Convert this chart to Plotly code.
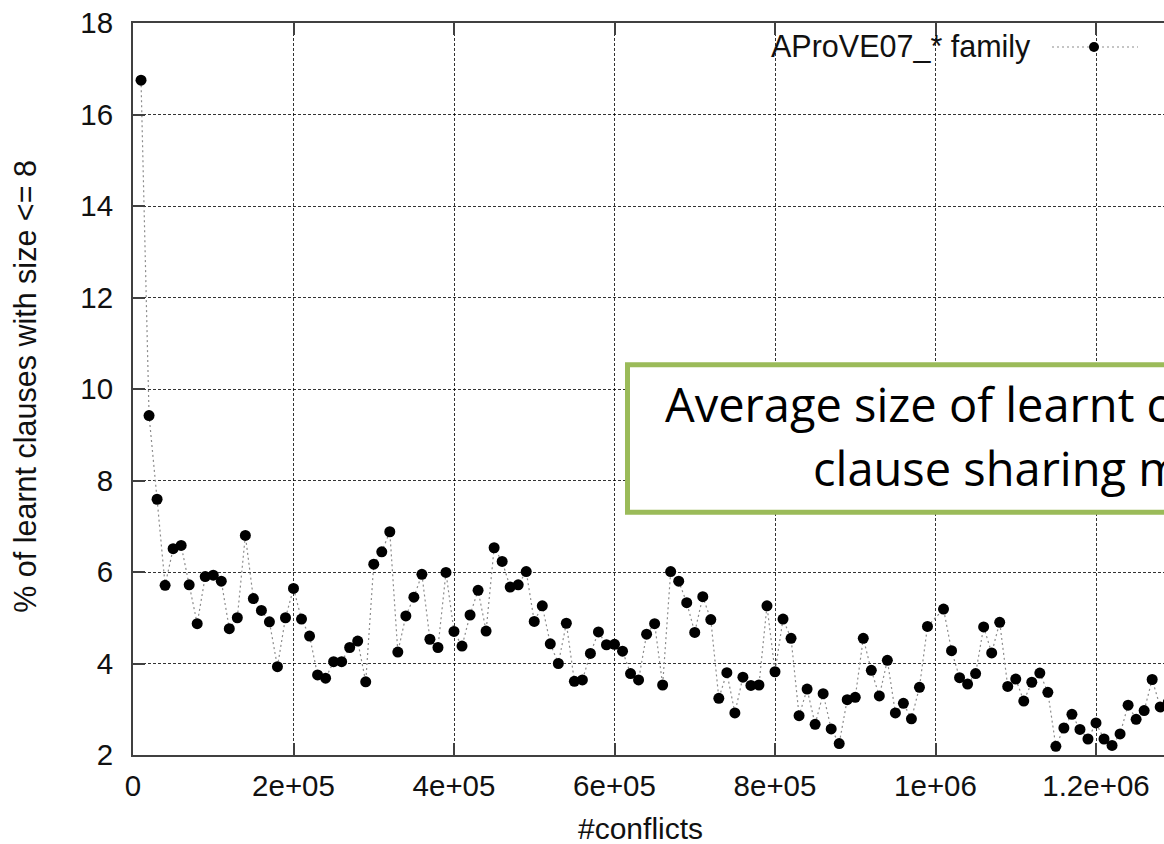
import plotly.graph_objects as go

# ---- data ----
conflicts = [10000, 20000, 30000, 40000, 50000, 60000, 70000, 80000, 90000, 100000,
             110000, 120000, 130000, 140000, 150000, 160000, 170000, 180000, 190000, 200000,
             210000, 220000, 230000, 240000, 250000, 260000, 270000, 280000, 290000, 300000,
             310000, 320000, 330000, 340000, 350000, 360000, 370000, 380000, 390000, 400000,
             410000, 420000, 430000, 440000, 450000, 460000, 470000, 480000, 490000, 500000,
             510000, 520000, 530000, 540000, 550000, 560000, 570000, 580000, 590000, 600000,
             610000, 620000, 630000, 640000, 650000, 660000, 670000, 680000, 690000, 700000,
             710000, 720000, 730000, 740000, 750000, 760000, 770000, 780000, 790000, 800000,
             810000, 820000, 830000, 840000, 850000, 860000, 870000, 880000, 890000, 900000,
             910000, 920000, 930000, 940000, 950000, 960000, 970000, 980000, 990000,
             1010000, 1020000, 1030000, 1040000, 1050000, 1060000, 1070000, 1080000, 1090000, 1100000,
             1110000, 1120000, 1130000, 1140000, 1150000, 1160000, 1170000, 1180000, 1190000, 1200000,
             1210000, 1220000, 1230000, 1240000, 1250000, 1260000, 1270000, 1280000, 1290000]

pct_small = [16.75, 9.42, 7.59, 5.71, 6.51, 6.58, 5.72, 4.87, 5.90, 5.93,
             5.80, 4.76, 5.00, 6.80, 5.42, 5.16, 4.91, 3.93, 5.00, 5.64,
             4.97, 4.60, 3.75, 3.68, 4.04, 4.04, 4.35, 4.49, 3.60, 6.17,
             6.44, 6.88, 4.25, 5.04, 5.45, 5.95, 4.53, 4.35, 5.99, 4.70,
             4.38, 5.06, 5.60, 4.71, 6.53, 6.23, 5.67, 5.72, 6.01, 4.92,
             5.26, 4.43, 4.00, 4.88, 3.61, 3.64, 4.22, 4.69, 4.41, 4.42,
             4.27, 3.78, 3.64, 4.64, 4.87, 3.53, 6.01, 5.80, 5.33, 4.68,
             5.46, 4.96, 3.24, 3.80, 2.92, 3.70, 3.52, 3.53, 5.26, 3.82,
             4.97, 4.55, 2.86, 3.44, 2.67, 3.34, 2.57, 2.25, 3.21, 3.26,
             4.55, 3.85, 3.29, 4.07, 2.92, 3.13, 2.79, 3.48, 4.81,
             5.19, 4.28, 3.69, 3.55, 3.78, 4.80, 4.23, 4.90, 3.50, 3.66,
             3.18, 3.59, 3.79, 3.37, 2.19, 2.59, 2.89, 2.56, 2.35, 2.70,
             2.35, 2.21, 2.46, 3.09, 2.78, 2.97, 3.65, 3.05, 3.15]

x_tickvals = [0, 200000, 400000, 600000, 800000, 1000000, 1200000]
x_ticktext = ["0", "2e+05", "4e+05", "6e+05", "8e+05", "1e+06", "1.2e+06"]
y_tickvals = [2, 4, 6, 8, 10, 12, 14, 16, 18]

series_name = "AProVE07_* family"
x_title = "#conflicts"
y_title = "% of learnt clauses with size <= 8"
note_line1 = "Average size of learnt clauses is small"
note_line2 = "clause sharing makes sense"

# ---- geometry (pixels) ----
W, H = 1164, 844
L, T, B_PX = 133, 23, 755.5
PW = W - L
PH = B_PX - T
PX_PER_2E5 = 160.5
x_max = PW / PX_PER_2E5 * 200000


def px(xp):
    return (xp - L) / PW


def py(yp):
    return (B_PX - yp) / PH


FONT = "Liberation Sans, Arial, sans-serif"
NOTE_FONT = "Open Sans"
AXC = "#404040"

fig = go.Figure()
fig.add_trace(go.Scatter(
    x=conflicts, y=pct_small, mode="lines+markers", name=series_name,
    line=dict(color="#8c8c8c", width=1.2, dash="2px,3px"),
    marker=dict(color="black", size=11, line=dict(width=0)),
    showlegend=False,
))

axis_common = dict(
    showgrid=True, gridcolor="rgba(0,0,0,0.8)", gridwidth=1, griddash="3px,2px",
    showline=True, linecolor=AXC, linewidth=2,
    ticks="inside", ticklen=12, tickwidth=1.5, tickcolor=AXC,
    tickfont=dict(family=FONT, size=29.5, color="#111"),
    zeroline=False,
)

fig.update_xaxes(range=[0, x_max], tickvals=x_tickvals, ticktext=x_ticktext,
                 mirror="ticks", ticklabelstandoff=4, **axis_common)
fig.update_yaxes(range=[2, 18], tickvals=y_tickvals, mirror=False,
                 ticklabelstandoff=12, **axis_common)

shapes = [
    # legend sample
    dict(type="line", xref="paper", yref="paper", x0=px(1052), x1=px(1138),
         y0=py(47), y1=py(47), line=dict(color="#8c8c8c", width=1.2, dash="2px,3px")),
    dict(type="circle", xref="paper", yref="paper", xsizemode="pixel", ysizemode="pixel",
         xanchor=px(1094), yanchor=py(47), x0=-5, x1=5, y0=-5, y1=5,
         fillcolor="black", line=dict(width=0)),
    # green note box
    dict(type="rect", xref="paper", yref="paper", x0=px(627.5), x1=px(1500),
         y0=py(512.5), y1=py(365), fillcolor="white",
         line=dict(color="#9BBB59", width=5), layer="above"),
]

annotations = [
    dict(text=series_name, xref="paper", yref="paper", x=px(1033), y=py(47),
         xanchor="right", yanchor="middle", showarrow=False,
         font=dict(family=FONT, size=30.5, color="#111")),
    dict(text=x_title, xref="paper", yref="paper", x=px(640), y=py(829),
         xanchor="center", yanchor="middle", showarrow=False,
         font=dict(family=FONT, size=30, color="#111")),
    dict(text=y_title, xref="paper", yref="paper", x=px(25), y=py(387),
         xanchor="center", yanchor="middle", textangle=-90, showarrow=False,
         font=dict(family=FONT, size=30.5, color="#111")),
    dict(text=note_line1, xref="paper", yref="paper", x=px(663), y=py(404.5),
         xanchor="left", yanchor="middle", showarrow=False,
         font=dict(family=NOTE_FONT, size=47, color="black")),
    dict(text=note_line2, xref="paper", yref="paper", x=px(810.5), y=py(468.5),
         xanchor="left", yanchor="middle", showarrow=False,
         font=dict(family=NOTE_FONT, size=47, color="black")),
]

fig.update_layout(
    width=W, height=H,
    margin=dict(l=L, r=0, t=T, b=H - B_PX, pad=0),
    paper_bgcolor="white", plot_bgcolor="white",
    shapes=shapes, annotations=annotations,
    showlegend=False,
)

fig.write_html("out.html")
